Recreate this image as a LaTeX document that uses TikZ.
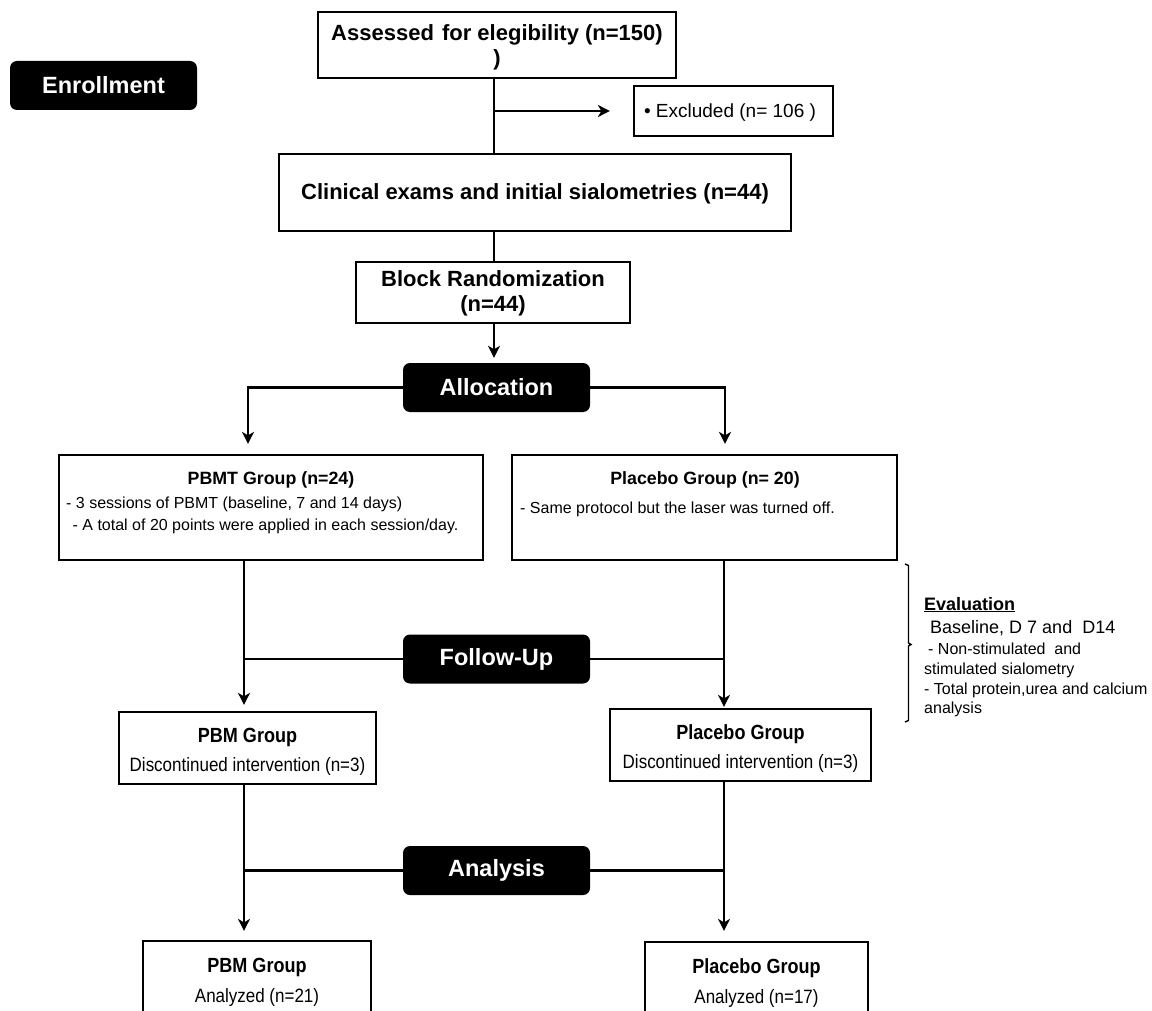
\documentclass[tikz,border=0pt]{standalone}
\usepackage{fontspec}
\setmainfont{Liberation Sans}
\newfontfamily\narrowf[FakeStretch=0.88]{Liberation Sans}
\usetikzlibrary{arrows.meta}
\tikzset{
  box/.style={draw=black, line width=2.2pt, fill=white, inner sep=0pt},
  blk/.style={fill=black, rounded corners=7pt, inner sep=0pt, minimum width=187pt, minimum height=49pt,
     text=white, font=\fontsize{23.5}{26}\selectfont\bfseries},
  conn/.style={line width=2.2pt},
  arr/.style={conn, -{Stealth[length=12pt,width=12pt,inset=3.5pt]}},
  txt/.style={inner sep=0pt, anchor=base},
  ltxt/.style={inner sep=0pt, anchor=base west},
  hb/.style={font=\fontsize{22}{25}\selectfont\bfseries},
  tb/.style={font=\fontsize{17.8}{20}\selectfont\bfseries},
  tr/.style={font=\fontsize{16}{19}\selectfont},
  nb/.style={font=\narrowf\fontsize{20.5}{23}\selectfont\bfseries},
  nr/.style={font=\narrowf\fontsize{19.3}{22}\selectfont},
  ev/.style={font=\fontsize{16}{19}\selectfont},
}
\begin{document}
\begin{tikzpicture}[x=1pt,y=-1pt]
\useasboundingbox (0,0) rectangle (1152,1011);
\clip (0,0) rectangle (1152,1011);
\fill[white] (0,0) rectangle (1152,1011);

% spine coordinates
\coordinate (sp) at (494,0);
\coordinate (ls) at (244,0);
\coordinate (la) at (248,0);
\coordinate (rs) at (724,0);
\coordinate (ra) at (725,0);

% boxes
\node[box, minimum width=358pt, minimum height=66pt] (assess) at (497,45) {};
\node[blk] (enroll) at (103.5,85.5) {Enrollment};
\node[box, minimum width=199pt, minimum height=50pt] (excl) at (733.5,111) {};
\node[box, minimum width=512pt, minimum height=77pt] (clin) at (535,192.5) {};
\node[box, minimum width=274pt, minimum height=61pt] (block) at (493,292.5) {};
\node[blk] (alloc) at (496.5,387.5) {Allocation};
\node[box, minimum width=424pt, minimum height=105pt] (pbmt) at (271,507.5) {};
\node[box, minimum width=385pt, minimum height=105pt] (plac) at (704.5,507.5) {};
\node[blk] (follow) at (496.5,659) {Follow-Up};
\node[box, minimum width=257pt, minimum height=72pt] (pbm2) at (247.5,748) {};
\node[box, minimum width=261pt, minimum height=72pt] (plac2) at (740.5,745) {};
\node[blk] (anal) at (496.5,870.5) {Analysis};
\node[box, minimum width=228pt, minimum height=98pt] (pbm3) at (257,990) {};
\node[box, minimum width=223pt, minimum height=98pt] (plac3) at (756.5,991) {};

% texts
\node[txt, hb] (t1) at (497,41) {Assessed\kern2pt\ for elegibility (n=150)};
\node[txt, hb] (t1b) at (497,66) {)};
\node[txt, font=\fontsize{19}{22}\selectfont] (t2) at (730,118) {\textbullet\ Excluded (n= 106 )};
\node[txt, hb] (t3) at (535,200) {Clinical exams and initial sialometries (n=44)};
\node[txt, hb] (t4) at (493,287) {Block Randomization};
\node[txt, hb] (t4b) at (493,312) {(n=44)};
\node[txt, tb] (t5) at (271,484) {PBMT Group (n=24)};
\node[ltxt, tr] (t5a) at (66,508) {- 3 sessions of PBMT (baseline, 7 and 14 days)};
\node[ltxt, tr] (t5b) at (68,530) {\ - A total of 20 points were applied in each session/day.};
\node[txt, tb] (t6) at (705,484) {Placebo Group (n= 20)};
\node[ltxt, tr] (t6a) at (520,513) {- Same protocol but the laser was turned off.};
\node[txt, nb] (t7) at (247.5,742) {PBM Group};
\node[txt, nr] (t7a) at (247.5,771) {Discontinued intervention (n=3)};
\node[txt, nb] (t8) at (740.5,739) {Placebo Group};
\node[txt, nr] (t8a) at (740.5,768) {Discontinued intervention (n=3)};
\node[txt, nb] (t9) at (257,972) {PBM Group};
\node[txt, nr] (t9a) at (257,1002) {Analyzed (n=21)};
\node[txt, nb] (t10) at (756.5,973) {Placebo Group};
\node[txt, nr] (t10a) at (756.5,1003) {Analyzed (n=17)};

% evaluation
\draw[line width=1.4pt] (905,564) -- (908.5,565.5) -- (908.5,643) -- (911,644.5) -- (908.5,646) -- (908.5,720.5) -- (905,722);
\node[ltxt, font=\fontsize{18}{21}\selectfont\bfseries] (e1) at (924,610) {\underline{Evaluation}};
\node[ltxt, font=\fontsize{18}{21}\selectfont] (e2) at (930,633) {Baseline, D 7 and\ \ D14};
\node[ltxt, ev] (e3) at (928,654) {- Non-stimulated\ \ and};
\node[ltxt, ev] (e4) at (924,674) {stimulated sialometry};
\node[ltxt, ev] (e5) at (924,694) {- Total protein,urea and calcium};
\node[ltxt, ev] (e6) at (924,713) {analysis};

% connectors
\coordinate (br) at (494,111);
\draw[conn] (assess.south -| sp) -- (clin.north -| sp);
\draw[arr, shorten >=23pt] (br) -- (excl.west |- br);
\draw[conn] (clin.south -| sp) -- (block.north -| sp);
\draw[arr, shorten >=5pt] (block.south -| sp) -- (alloc.north -| sp);
\draw[arr, shorten >=10pt] (alloc.west) -| (pbmt.north -| la);
\draw[arr, shorten >=10pt] (alloc.east) -| (plac.north -| ra);

\coordinate (fl) at (244,659);
\coordinate (fr) at (724,659);
\draw[arr, shorten >=6pt] (pbmt.south -| ls) -- (pbm2.north -| ls);
\draw[conn] (follow.west) -- (fl);
\draw[arr, shorten >=1pt] (plac.south -| rs) -- (plac2.north -| rs);
\draw[conn] (follow.east) -- (fr);

\coordinate (al) at (244,870.5);
\coordinate (ar) at (724,870.5);
\draw[arr, shorten >=9pt] (pbm2.south -| ls) -- (pbm3.north -| ls);
\draw[conn] (anal.west) -- (al);
\draw[arr, shorten >=10pt] (plac2.south -| rs) -- (plac3.north -| rs);
\draw[conn] (anal.east) -- (ar);
\end{tikzpicture}
\end{document}
